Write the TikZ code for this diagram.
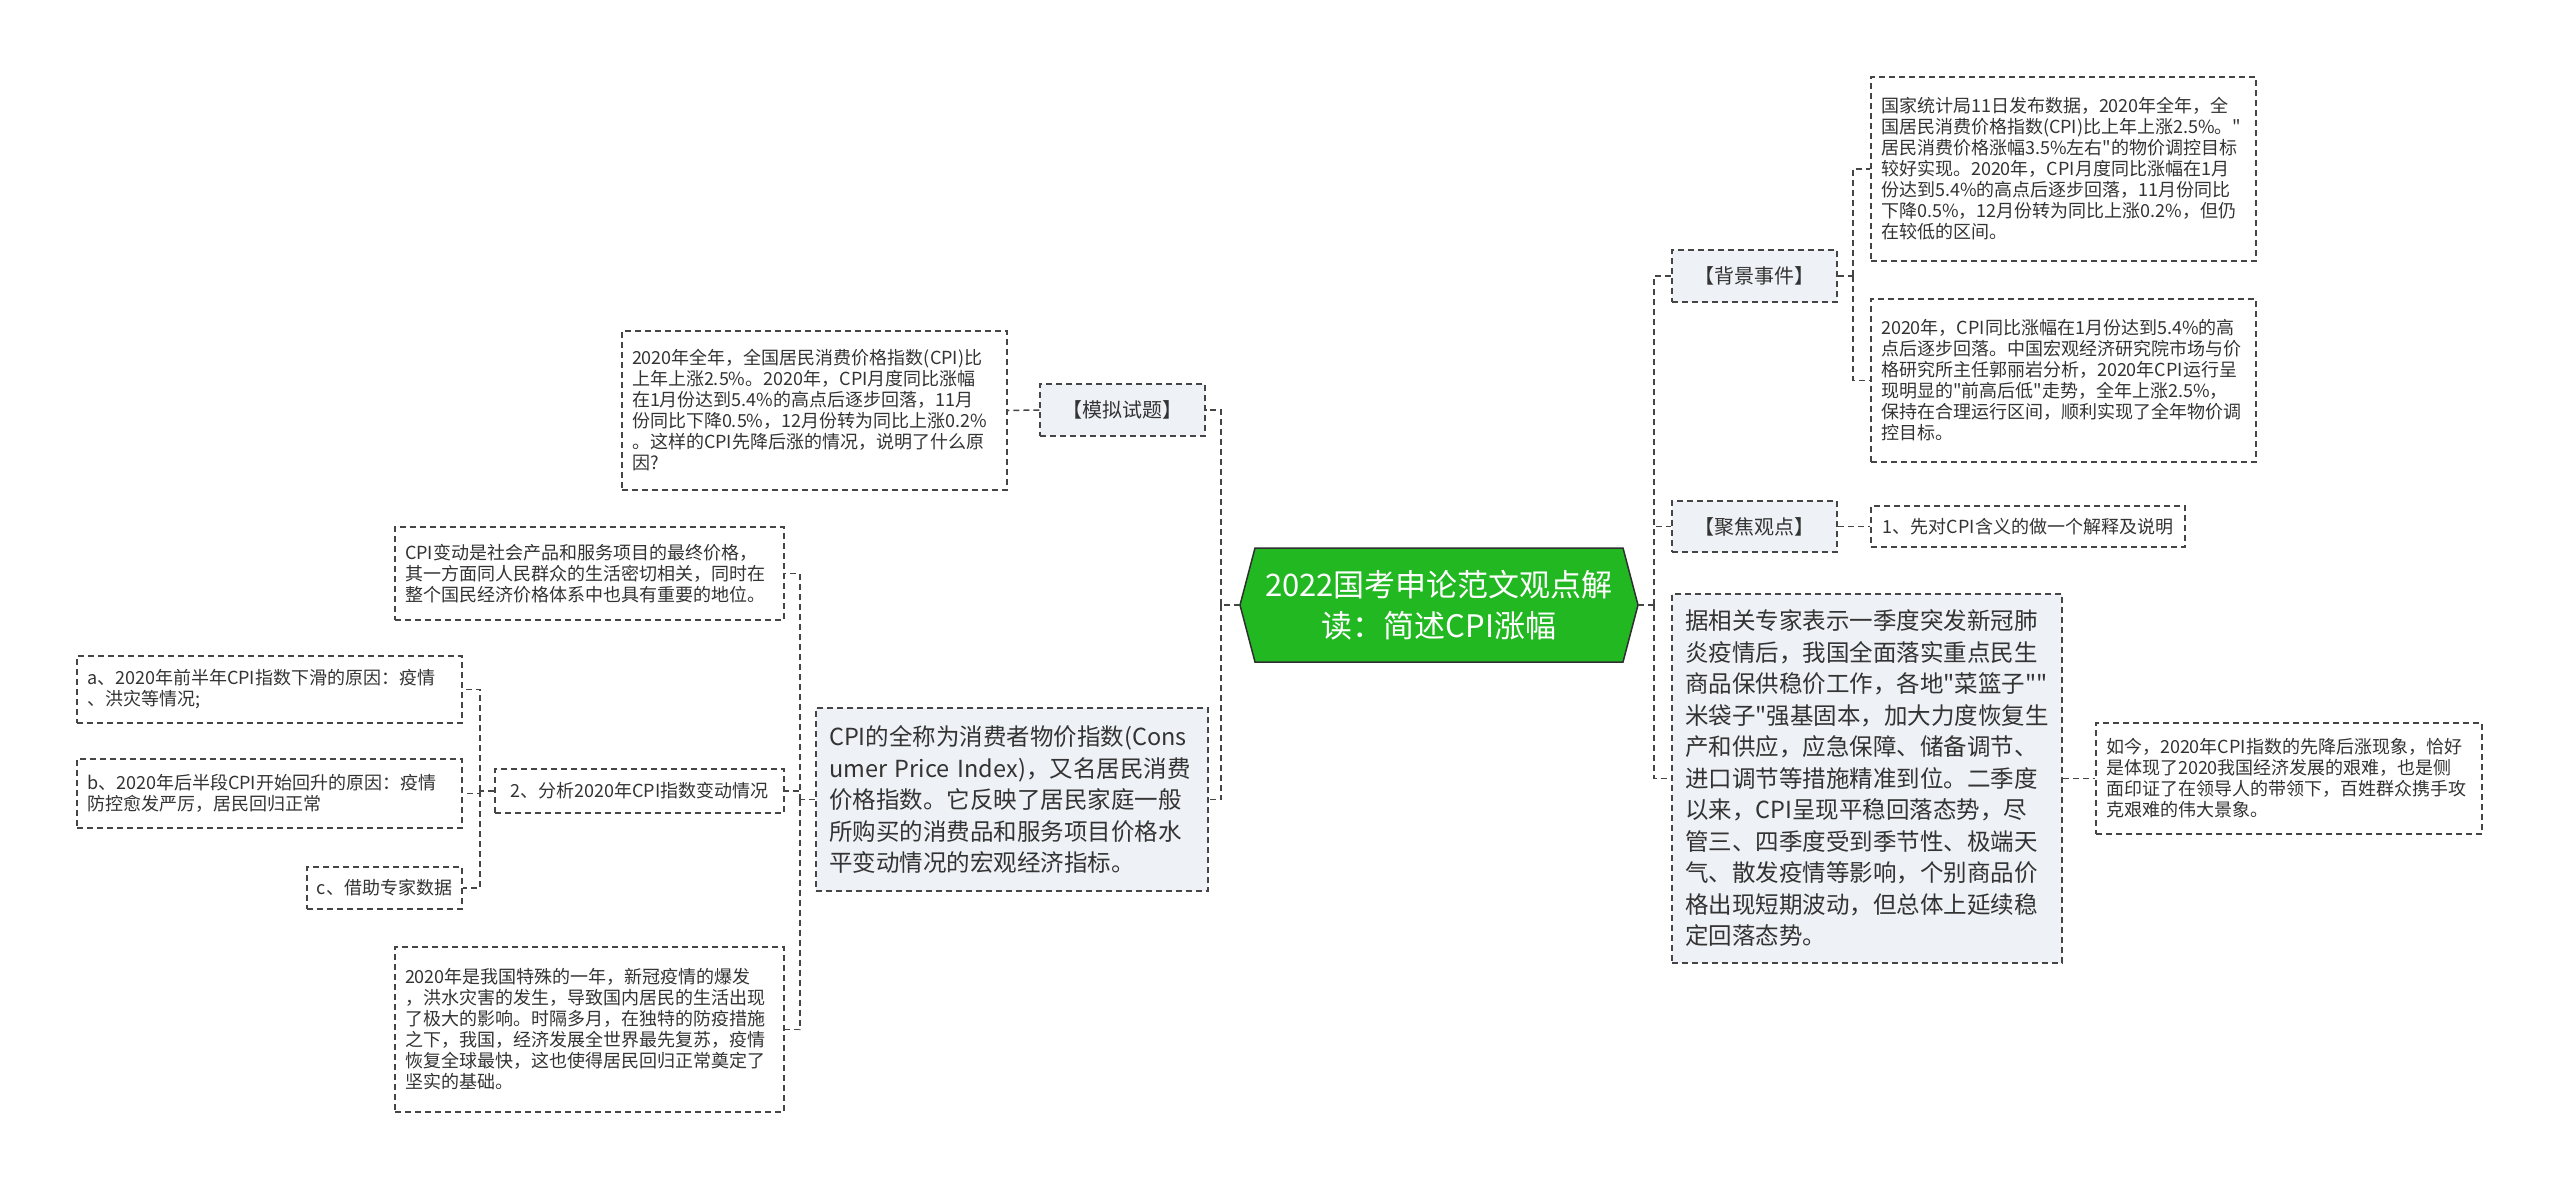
\documentclass[tikz,border=0pt]{standalone}
\usepackage{fontspec}
\setmainfont{Noto Sans CJK SC}[Ligatures=TeXOff]
\definecolor{bordc}{HTML}{454545}
\definecolor{txtc}{HTML}{333333}
\definecolor{fillc}{HTML}{EEF1F5}
\definecolor{rootg}{HTML}{22B822}
\definecolor{rootb}{HTML}{2F2F2F}
\begin{document}
\begin{tikzpicture}[x=1pt,y=-1pt,
  box/.style={draw=bordc, line width=1.5pt, dash pattern=on 6pt off 4pt, rectangle,
    inner xsep=10pt, inner ysep=0pt, align=left, text=txtc,
    font=\fontsize{18}{21}\selectfont},
  wbox/.style={box, fill=white},
  lbl/.style={box, fill=fillc, align=center, font=\fontsize{20}{24}\selectfont},
  bigbox/.style={box, fill=fillc, inner xsep=13pt, font=\fontsize{23.5}{31.5}\selectfont},
  conn/.style={draw=bordc, line width=1.5pt, dash pattern=on 6pt off 4pt}]
\useasboundingbox[fill=white] (0,0) rectangle (2560,1187);

% root
\draw[fill=rootg, draw=rootb, line width=1.5pt] (1240,605) -- (1255,548) -- (1623,548) -- (1638,605) -- (1623,662) -- (1255,662) -- cycle;
\node[minimum width=398pt, minimum height=114pt, inner sep=0pt, text=white, align=center,
  font=\fontsize{31}{41}\selectfont] (root) at (1439,605) {2022国考申论范文观点解\\读：简述CPI涨幅};

% left side
\node[lbl, minimum width=165pt, minimum height=52pt] (mnst) at (1122.5,410) {【模拟试题】};
\node[wbox, text width=365pt, minimum height=159pt] (q) at (814.5,410.5) {2020年全年，全国居民消费价格指数(CPI)比\\上年上涨2.5\%。2020年，CPI月度同比涨幅\\在1月份达到5.4\%的高点后逐步回落，11月\\份同比下降0.5\%，12月份转为同比上涨0.2\%\\。这样的CPI先降后涨的情况，说明了什么原\\因?};
\node[bigbox, text width=366pt, minimum height=183pt] (cpiq) at (1012,799.5) {CPI的全称为消费者物价指数(Cons\\umer Price Index)，又名居民消费\\价格指数。它反映了居民家庭一般\\所购买的消费品和服务项目价格水\\平变动情况的宏观经济指标。};
\node[wbox, text width=369pt, minimum height=93pt] (chg) at (589.5,573.5) {CPI变动是社会产品和服务项目的最终价格，\\其一方面同人民群众的生活密切相关，同时在\\整个国民经济价格体系中也具有重要的地位。};
\node[wbox, align=center, minimum width=289pt, minimum height=44pt] (fx) at (639.5,791) {2、分析2020年CPI指数变动情况};
\node[wbox, text width=369pt, minimum height=165pt] (y20) at (589.5,1029.5) {2020年是我国特殊的一年，新冠疫情的爆发\\，洪水灾害的发生，导致国内居民的生活出现\\了极大的影响。时隔多月，在独特的防疫措施\\之下，我国，经济发展全世界最先复苏，疫情\\恢复全球最快，这也使得居民回归正常奠定了\\坚实的基础。};
\node[wbox, text width=365pt, minimum height=67pt] (a) at (269.5,689.5) {a、2020年前半年CPI指数下滑的原因：疫情\\、洪灾等情况;};
\node[wbox, text width=365pt, minimum height=69pt] (b) at (269.5,793.5) {b、2020年后半段CPI开始回升的原因：疫情\\防控愈发严厉，居民回归正常};
\node[wbox, align=center, minimum width=155pt, minimum height=42pt] (c) at (384.5,888) {c、借助专家数据};

% right side
\node[lbl, minimum width=165pt, minimum height=52pt] (bg) at (1754.5,276) {【背景事件】};
\node[lbl, minimum width=165pt, minimum height=51pt] (fo) at (1754.5,526.5) {【聚焦观点】};
\node[bigbox, text width=364pt, minimum height=369pt] (bigt) at (1867,778.5) {据相关专家表示一季度突发新冠肺\\炎疫情后，我国全面落实重点民生\\商品保供稳价工作，各地"菜篮子""\\米袋子"强基固本，加大力度恢复生\\产和供应，应急保障、储备调节、\\进口调节等措施精准到位。二季度\\以来，CPI呈现平稳回落态势，尽\\管三、四季度受到季节性、极端天\\气、散发疫情等影响，个别商品价\\格出现短期波动，但总体上延续稳\\定回落态势。};
\node[wbox, text width=365pt, minimum height=184pt] (t1) at (2063.5,169) {国家统计局11日发布数据，2020年全年，全\\国居民消费价格指数(CPI)比上年上涨2.5\%。"\\居民消费价格涨幅3.5\%左右"的物价调控目标\\较好实现。2020年，CPI月度同比涨幅在1月\\份达到5.4\%的高点后逐步回落，11月份同比\\下降0.5\%，12月份转为同比上涨0.2\%，但仍\\在较低的区间。};
\node[wbox, text width=365pt, minimum height=163pt] (t2) at (2063.5,380.5) {2020年，CPI同比涨幅在1月份达到5.4\%的高\\点后逐步回落。中国宏观经济研究院市场与价\\格研究所主任郭丽岩分析，2020年CPI运行呈\\现明显的"前高后低"走势，全年上涨2.5\%，\\保持在合理运行区间，顺利实现了全年物价调\\控目标。};
\node[wbox, align=center, minimum width=314pt, minimum height=41pt] (one) at (2028,526.5) {1、先对CPI含义的做一个解释及说明};
\node[wbox, text width=366pt, minimum height=111pt] (far) at (2289,778.5) {如今，2020年CPI指数的先降后涨现象，恰好\\是体现了2020我国经济发展的艰难，也是侧\\面印证了在领导人的带领下，百姓群众携手攻\\克艰难的伟大景象。};

% connectors left
\coordinate (jl) at (1221,605);
\draw[conn] (root.west) -- (jl);
\draw[conn] (jl) |- (mnst.east);
\draw[conn] (jl) |- (cpiq.east);
\draw[conn] (mnst.west) -- (q.east);
\coordinate (jl2) at (800,799.5);
\draw[conn] (cpiq.west) -- (jl2);
\draw[conn] (jl2) |- (chg.east);
\draw[conn] (jl2) |- (fx.east);
\draw[conn] (jl2) |- (y20.east);
\coordinate (jl3) at (480,791);
\draw[conn] (fx.west) -- (jl3);
\draw[conn] (jl3) |- (a.east);
\draw[conn] (jl3) |- (b.east);
\draw[conn] (jl3) |- (c.east);

% connectors right
\coordinate (jr) at (1654,605);
\draw[conn] (root.east) -- (jr);
\draw[conn] (jr) |- (bg.west);
\draw[conn] (jr) |- (fo.west);
\draw[conn] (jr) |- (bigt.west);
\coordinate (jr2) at (1853,276);
\draw[conn] (bg.east) -- (jr2);
\draw[conn] (jr2) |- (t1.west);
\draw[conn] (jr2) |- (t2.west);
\draw[conn] (fo.east) -- (one.west);
\draw[conn] (bigt.east) -- (far.west);
\end{tikzpicture}
\end{document}
